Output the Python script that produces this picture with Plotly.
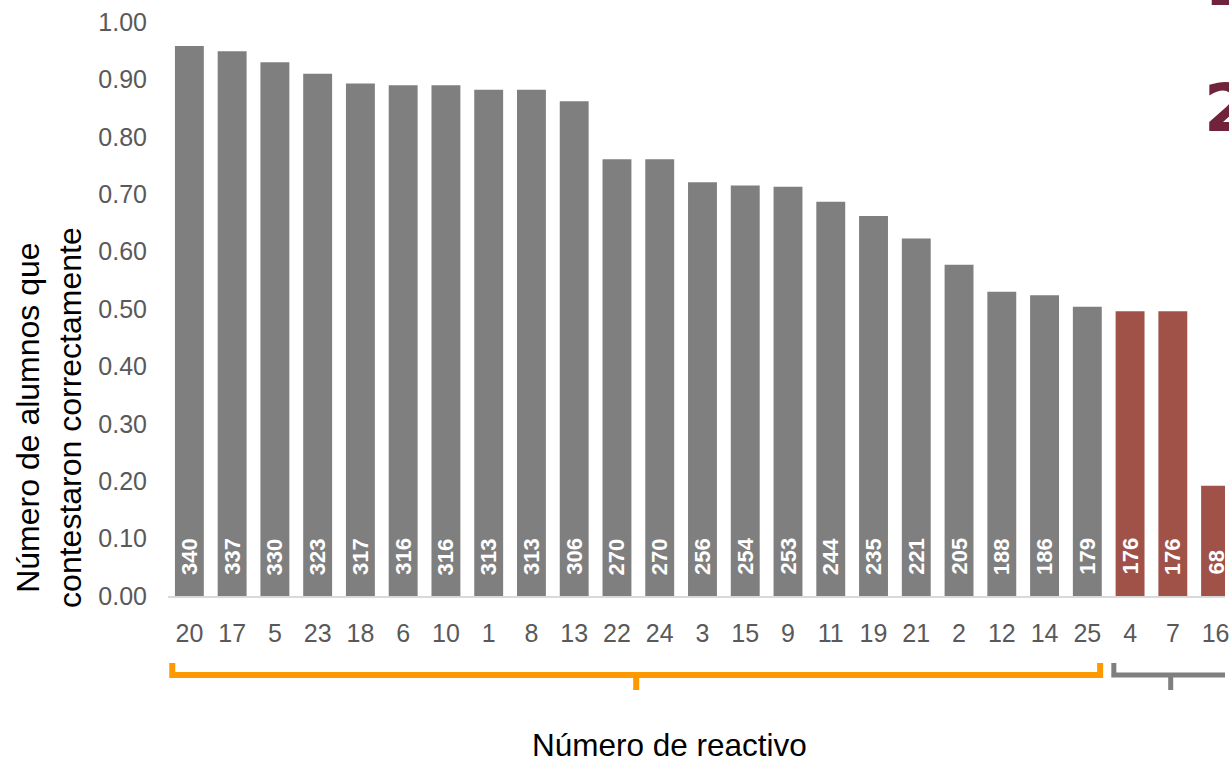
import plotly.graph_objects as go

# ---- data ----
items = ["20", "17", "5", "23", "18", "6", "10", "1", "8", "13", "22", "24", "3",
         "15", "9", "11", "19", "21", "2", "12", "14", "25", "4", "7", "16"]
counts = [340, 337, 330, 323, 317, 316, 316, 313, 313, 306, 270, 270, 256,
          254, 253, 244, 235, 221, 205, 188, 186, 179, 176, 176, 68]
proportions = [0.958, 0.949, 0.930, 0.910, 0.893, 0.890, 0.890, 0.882, 0.882, 0.862,
               0.761, 0.761, 0.721, 0.715, 0.713, 0.687, 0.662, 0.623, 0.577, 0.530,
               0.524, 0.504, 0.496, 0.496, 0.192]
groups = ["a"] * 22 + ["b"] * 3
y_ticks = [0.0, 0.1, 0.2, 0.3, 0.4, 0.5, 0.6, 0.7, 0.8, 0.9, 1.0]

GREY = "#7F7F7F"
RED = "#A05248"
ORANGE = "#FF9900"
MAROON = "#70243C"
FONT = "Liberation Sans, Arial, sans-serif"

idx = list(range(len(items)))
colors = [GREY if g == "a" else RED for g in groups]

fig = go.Figure()
fig.add_trace(go.Bar(x=idx, y=proportions, marker=dict(color=colors, line=dict(width=0)),
                     hoverinfo="skip", showlegend=False))

# value labels inside bars
for i, c in zip(idx, counts):
    fig.add_annotation(x=i, y=0, xref="x", yref="y", text=f"<b>{c}</b>", textangle=-90,
                       showarrow=False, yanchor="bottom", xanchor="center", yshift=19,
                       font=dict(family=FONT, size=22, color="white"))

# brackets under categories
def bracket(x0, x1, color, width):
    yl, yt, yb = -0.1376, -0.1167, -0.1638
    xc = (x0 + x1) / 2
    path = (f"M {x0},{yt} L {x0},{yl} L {x1},{yl} L {x1},{yt} "
            f"M {xc},{yl} L {xc},{yb}")
    fig.add_shape(type="path", path=path, xref="x", yref="paper",
                  line=dict(color=color, width=width))

bracket(-0.4, 21.3, ORANGE, 6)
bracket(21.62, 24.28, GREY, 5)

# axis titles
fig.add_annotation(text="Número de alumnos que<br>contestaron correctamente", textangle=-90,
                   xref="paper", yref="paper", x=-0.1126, y=0.312, showarrow=False,
                   xanchor="center", yanchor="middle",
                   font=dict(family=FONT, size=32, color="#000000"))
fig.add_annotation(text="Número de reactivo", xref="paper", yref="paper",
                   x=0.474, y=-0.2596, showarrow=False, xanchor="center", yanchor="middle",
                   font=dict(family=FONT, size=31.5, color="#000000"))

# large numbers at the right edge (partially off-canvas)
fig.add_annotation(text="<b>1</b>", xref="paper", yref="paper", x=0.978, y=1.068,
                   showarrow=False, xanchor="left", yanchor="middle",
                   font=dict(family="DejaVu Sans", size=66, color=MAROON))
fig.add_annotation(text="<b>2</b>", xref="paper", yref="paper", x=0.978, y=0.85,
                   showarrow=False, xanchor="left", yanchor="middle",
                   font=dict(family="DejaVu Sans", size=66, color=MAROON))

fig.update_layout(
    width=1229, height=760,
    margin=dict(l=168, r=0, t=22, b=164),
    paper_bgcolor="white", plot_bgcolor="white",
    bargap=0.324,
    font=dict(family=FONT, color="#595959"),
)
fig.update_xaxes(range=[-0.5, 24.22], tickmode="array", tickvals=idx, ticktext=items,
                 tickfont=dict(size=25, color="#595959", family=FONT),
                 showgrid=False, zeroline=False, showline=True, linecolor="#D9D9D9",
                 linewidth=2, ticks="", ticklabelstandoff=14, ticklabeloverflow="allow")
fig.update_yaxes(range=[0, 1.0], tickmode="array", tickvals=y_ticks,
                 ticktext=[f"{v:.2f}" for v in y_ticks],
                 tickfont=dict(size=25, color="#595959", family=FONT),
                 showgrid=False, zeroline=False, showline=False, ticks="",
                 ticklabelstandoff=20)

fig.write_html("out.html", config={"displayModeBar": False},
               post_script="document.body.style.margin='0';document.body.style.overflow='hidden';")
